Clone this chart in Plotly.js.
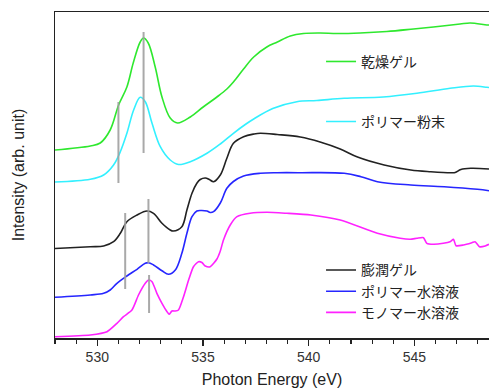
<!DOCTYPE html>
<html>
<head>
<meta charset="utf-8">
<script src="https://cdn.plot.ly/plotly-3.0.1.min.js"></script>
<style>
  html, body { margin: 0; padding: 0; background: #fff; }
  #chart { width: 489px; height: 388px; }
</style>
</head>
<body>
<div id="chart"></div>
<script>
// O K-edge NEXAFS spectra (photon energy in eV, intensity in arbitrary units, vertically offset)
const dryGelE = [528.0, 529.67, 530.14, 530.61, 531.01, 531.40, 531.70, 532.03, 532.19, 532.41, 532.74, 533.06, 533.45, 533.80, 534.40, 535.01, 535.66, 536.13, 536.44, 536.92, 537.40, 538.02, 538.52, 539.13, 539.75, 540.54, 541.33, 542.43, 543.70, 544.96, 545.90, 547.16, 547.64, 548.43, 548.53];
const dryGelI = [188, 192, 195, 208, 233, 251, 275, 296, 300, 295, 271, 241, 220, 215, 221, 231, 241, 249, 256, 269, 281, 291, 296, 302, 304.5, 305, 304.5, 305, 306.5, 309, 311, 314, 315, 313, 313];

const powderE = [528.0, 529.67, 530.30, 530.77, 531.09, 531.40, 531.72, 532.03, 532.27, 532.59, 532.98, 533.45, 533.84, 534.40, 535.19, 535.82, 536.44, 537.00, 537.40, 538.30, 539.44, 540.39, 541.68, 543.52, 545.12, 546.69, 547.79, 548.43, 548.53];
const powderI = [156, 158.7, 163, 173, 186.3, 204.7, 228, 240.7, 236.3, 214.7, 191.3, 178, 173.5, 176.3, 184.7, 194, 204.7, 213.5, 219, 229.5, 236.3, 237.5, 239.7, 241, 244.7, 249.7, 252, 250.7, 250.5];

const swollenE = [528.0, 529.67, 530.30, 530.77, 531.09, 531.40, 531.88, 532.35, 532.66, 533.06, 533.45, 533.59, 534.00, 534.24, 534.48, 534.71, 534.87, 535.11, 535.30, 535.50, 535.82, 536.13, 536.44, 536.92, 537.42, 537.71, 538.51, 539.60, 540.54, 541.49, 542.31, 543.57, 544.83, 545.78, 546.72, 546.93, 547.20, 547.67, 548.53];
const swollenI = [89.5, 91.3, 92, 96.3, 104.7, 116.3, 123, 127, 124.7, 114.7, 108, 107, 111.3, 128, 144.7, 154.7, 158.5, 160, 158.5, 156.3, 163, 179.7, 194.7, 201.3, 204, 204.7, 203.5, 201, 196, 189, 181, 173, 168, 166.3, 165.3, 165.5, 168.5, 169.7, 169];

const polySolE = [528.0, 529.67, 530.30, 530.61, 530.93, 531.40, 531.88, 532.27, 532.43, 532.66, 533.06, 533.37, 533.69, 534.00, 534.24, 534.48, 534.71, 534.92, 535.19, 535.34, 535.50, 535.82, 536.13, 536.44, 536.92, 537.71, 538.52, 539.60, 541.68, 542.47, 543.25, 544.83, 546.41, 547.98, 548.53];
const polySolI = [40.7, 43, 44.7, 48, 54.7, 62, 68.7, 74.7, 75.3, 73, 67.3, 63.7, 68, 84.7, 104.7, 121.3, 127, 127.5, 127, 125.5, 126.3, 135, 149.7, 156.5, 162, 164.7, 165.3, 165.3, 164.7, 161.3, 156.3, 153, 151.3, 148.7, 147.3];

const monoSolE = [528.0, 529.67, 530.46, 530.93, 531.24, 531.64, 531.95, 532.27, 532.43, 532.59, 532.82, 533.06, 533.30, 533.40, 533.53, 533.69, 533.84, 534.08, 534.32, 534.55, 534.79, 534.95, 535.11, 535.34, 535.66, 535.82, 535.97, 536.29, 536.61, 537.23, 538.02, 538.97, 540.10, 541.49, 543.25, 544.33, 544.80, 545.12, 545.43, 545.59, 545.90, 546.37, 546.69, 546.85, 546.97, 547.32, 547.72, 547.87, 548.08, 548.35, 548.53];
const monoSolI = [1.3, 3, 6.3, 14.7, 21.3, 28, 43, 54.7, 58, 56.3, 44.7, 34.7, 26.3, 23.7, 27, 27, 28, 41.3, 58, 71.3, 76.3, 75.5, 72, 71.3, 79, 87, 98, 113, 121.3, 124.7, 125.7, 124.7, 123, 118, 104.7, 99.7, 98.7, 99.7, 100.3, 94.7, 93.7, 94.7, 96.3, 98.7, 92.3, 93, 95.3, 96.3, 91.3, 92, 93.7];

// Vertical guide lines marking the pre-edge features
const guideE    = [531.00, 532.19, 531.32, 532.42, 532.45];
const guideLow  = [155, 185, 49, 75, 25];
const guideHigh = [236, 306, 125, 139, 63];

const seriesNames = ['乾燥ゲル', 'ポリマー粉末', '膨潤ゲル', 'ポリマー水溶液', 'モノマー水溶液'];
const seriesColors = ['#2ee82e', '#33f0ff', '#222222', '#2626ff', '#ff22ff'];

const fontFamily = 'Liberation Sans, Arial, Noto Sans CJK JP, sans-serif';

function curve(x, y, idx, legendId, smoothing) {
  return {
    x: x, y: y, name: seriesNames[idx], type: 'scatter', mode: 'lines',
    line: { color: seriesColors[idx], width: 1.6, shape: 'spline', smoothing: smoothing },
    legend: legendId, hoverinfo: 'skip'
  };
}

const traces = [
  curve(dryGelE, dryGelI, 0, 'legend', 1.0),
  curve(powderE, powderI, 1, 'legend2', 1.0),
  curve(swollenE, swollenI, 2, 'legend3', 1.0),
  curve(polySolE, polySolI, 3, 'legend3', 1.0),
  curve(monoSolE, monoSolI, 4, 'legend3', 0.6)
];

guideE.forEach(function (e, i) {
  traces.push({
    x: [e, e], y: [guideLow[i], guideHigh[i]], type: 'scatter', mode: 'lines',
    line: { color: 'rgba(160,160,160,0.9)', width: 2 },
    showlegend: false, hoverinfo: 'skip'
  });
});

const legendCommon = {
  bgcolor: 'rgba(0,0,0,0)', borderwidth: 0,
  font: { family: fontFamily, size: 14, color: '#222' },
  xanchor: 'left', yanchor: 'middle', itemclick: false
};

const layout = {
  width: 489, height: 388,
  margin: { l: 55, r: 0, t: 12, b: 50 },
  paper_bgcolor: '#ffffff', plot_bgcolor: '#ffffff',
  font: { family: fontFamily, size: 14, color: '#222' },
  showlegend: true,
  legend: Object.assign({ x: 0.613, y: 0.847 }, legendCommon),
  legend2: Object.assign({ x: 0.613, y: 0.663 }, legendCommon),
  legend3: Object.assign({ x: 0.613, y: 0.143, tracegroupgap: 0 }, legendCommon),
  xaxis: {
    range: [528, 548.53],
    showgrid: false, zeroline: false,
    showline: true, linecolor: '#222', linewidth: 1.5, mirror: true,
    ticks: 'outside', ticklen: 6, tickwidth: 1.2, tickcolor: '#222',
    tick0: 530, dtick: 5,
    minor: { dtick: 1, tick0: 528, ticks: 'outside', ticklen: 4, tickwidth: 1.2, tickcolor: '#222' },
    tickfont: { family: fontFamily, size: 14, color: '#333' },
    title: { text: 'Photon Energy (eV)', font: { family: fontFamily, size: 16, color: '#222' }, standoff: 11 }
  },
  yaxis: {
    range: [0, 326],
    showgrid: false, zeroline: false,
    showline: true, linecolor: '#222', linewidth: 1.5, mirror: false,
    ticks: '', showticklabels: false,
    title: { text: 'Intensity (arb. unit)', font: { family: fontFamily, size: 16, color: '#222' }, standoff: 25 }
  }
};

Plotly.newPlot('chart', traces, layout, { staticPlot: true, displayModeBar: false });
</script>
</body>
</html>
